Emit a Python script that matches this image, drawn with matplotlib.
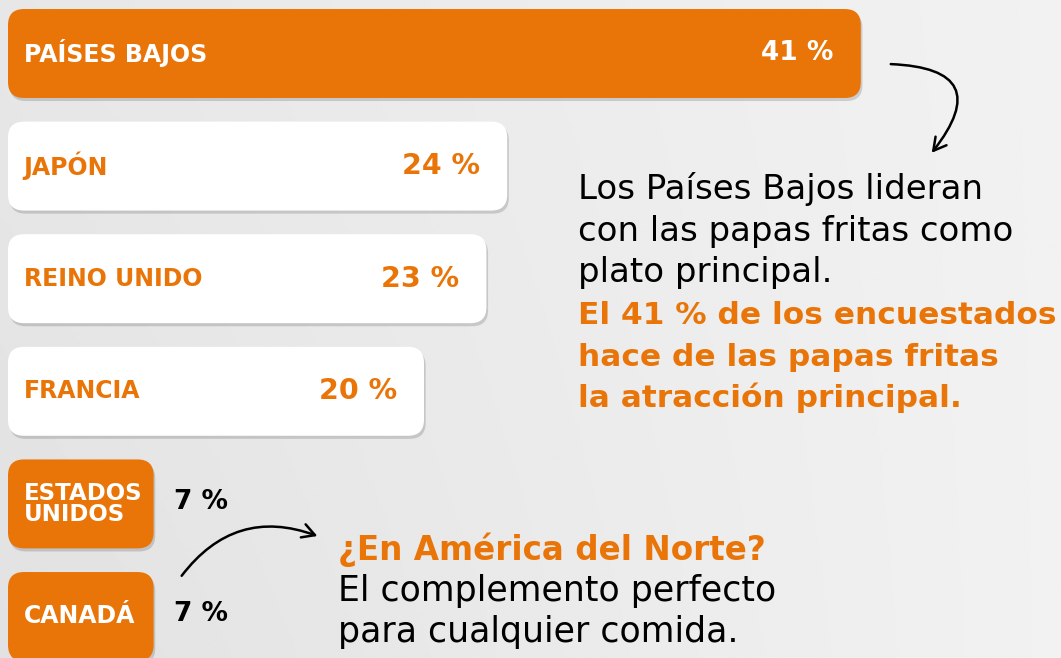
import numpy as np
import matplotlib.pyplot as plt
from matplotlib.patches import FancyBboxPatch, FancyArrowPatch
import matplotlib.patheffects as pe

# Datos del gráfico
paises = ['PAÍSES BAJOS', 'JAPÓN', 'REINO UNIDO', 'FRANCIA', 'ESTADOS\nUNIDOS', 'CANADÁ']
valores = [41, 24, 23, 20, 7, 7]
etiquetas_valor = ['41 %', '24 %', '23 %', '20 %', '7 %', '7 %']
destacado = [True, False, False, False, True, True]   # barras naranjas

texto_derecha = ['Los Países Bajos lideran', 'con las papas fritas como', 'plato principal.']
texto_derecha_naranja = ['El 41 % de los encuestados', 'hace de las papas fritas', 'la atracción principal.']
texto_abajo_titulo = '¿En América del Norte?'
texto_abajo = ['El complemento perfecto', 'para cualquier comida.']

NARANJA = '#E97508'
FUENTE = 'DejaVu Sans'

W, H = 1061, 658
fig = plt.figure(figsize=(W / 100, H / 100), dpi=100)

# Fondo gris con degradado suave
bg = fig.add_axes([0, 0, 1, 1])
xx, yy = np.meshgrid(np.linspace(0, 1, 600), np.linspace(0, 1, 400))
fondo = 0.905 + 0.042 * xx - 0.02 * yy * (1 - xx)
bg.imshow(fondo, cmap='gray', vmin=0, vmax=1, extent=[0, 1, 0, 1], aspect='auto',
          origin='upper', interpolation='bilinear')
bg.set_xlim(0, 1)
bg.set_ylim(0, 1)
bg.axis('off')

# Ejes de las barras: 0 % en x=8 px, 20.8 px por punto porcentual
px_por_pct = 20.8
paso = 112.6
xmax = 50
ax = fig.add_axes([8 / W, 0, px_por_pct * xmax / W, 1])
ax.set_xlim(0, xmax)
ax.set_ylim((H - 53.5) / paso, -53.5 / paso)
ax.axis('off')
ax.patch.set_alpha(0)

alto = 0.79
radio = 16 / px_por_pct
aspecto = px_por_pct / paso
sombra = [pe.withSimplePatchShadow(offset=(1.2, -2.2), shadow_rgbFace='k', alpha=0.15)]

for i, (pais, v, lab, dest) in enumerate(zip(paises, valores, etiquetas_valor, destacado)):
    color = NARANJA if dest else 'white'
    barra = FancyBboxPatch((0, i - alto / 2), v, alto,
                           boxstyle=f'round,pad=0,rounding_size={radio}',
                           mutation_aspect=aspecto, facecolor=color, edgecolor='none',
                           path_effects=sombra, zorder=2)
    ax.add_patch(barra)
    col_txt = 'white' if dest else NARANJA
    ax.text(0.75, i, pais, ha='left', va='center', color=col_txt,
            fontsize=16.5 if '\n' in pais else 17,
            fontweight='bold', family=FUENTE, linespacing=0.85, zorder=3)
    if v > 10:
        ax.text(v - 1.3, i, lab, ha='right', va='center', color=col_txt,
                fontsize=19 if i == 0 else 20.5, fontweight='bold', family=FUENTE, zorder=3)
    else:
        ax.text(v + 1.0, i - 0.02, lab, ha='left', va='center', color='black',
                fontsize=19, fontweight='bold', family=FUENTE, zorder=3)

# Texto de la derecha
for k, linea in enumerate(texto_derecha):
    fig.text(578 / W, 1 - (199 + 41.5 * k) / H, linea, ha='left', va='baseline',
             fontsize=24.5, color='black', family=FUENTE)
for k, linea in enumerate(texto_derecha_naranja):
    fig.text(578 / W, 1 - (324 + 41.5 * k) / H, linea, ha='left', va='baseline',
             fontsize=22.5, color=NARANJA, fontweight='bold', family=FUENTE)

# Texto de abajo
fig.text(338 / W, 1 - 560 / H, texto_abajo_titulo, ha='left', va='baseline',
         fontsize=23.5, color=NARANJA, fontweight='bold', family=FUENTE)
for k, linea in enumerate(texto_abajo):
    fig.text(338 / W, 1 - (601 + 41 * k) / H, linea, ha='left', va='baseline',
             fontsize=25, color='black', family=FUENTE)

# Flechas curvas
def flecha(p0, p1, rad):
    a = FancyArrowPatch((p0[0] / W, 1 - p0[1] / H), (p1[0] / W, 1 - p1[1] / H),
                        transform=fig.transFigure, connectionstyle=f'arc3,rad={rad}',
                        arrowstyle='->,head_length=9,head_width=5', color='black',
                        lw=1.8, mutation_scale=1, capstyle='round', joinstyle='round')
    fig.patches.append(a)

flecha((888, 64), (930, 155), -1.0)
flecha((180, 578), (320, 537), -0.38)

fig.savefig('out.png', dpi=100)
